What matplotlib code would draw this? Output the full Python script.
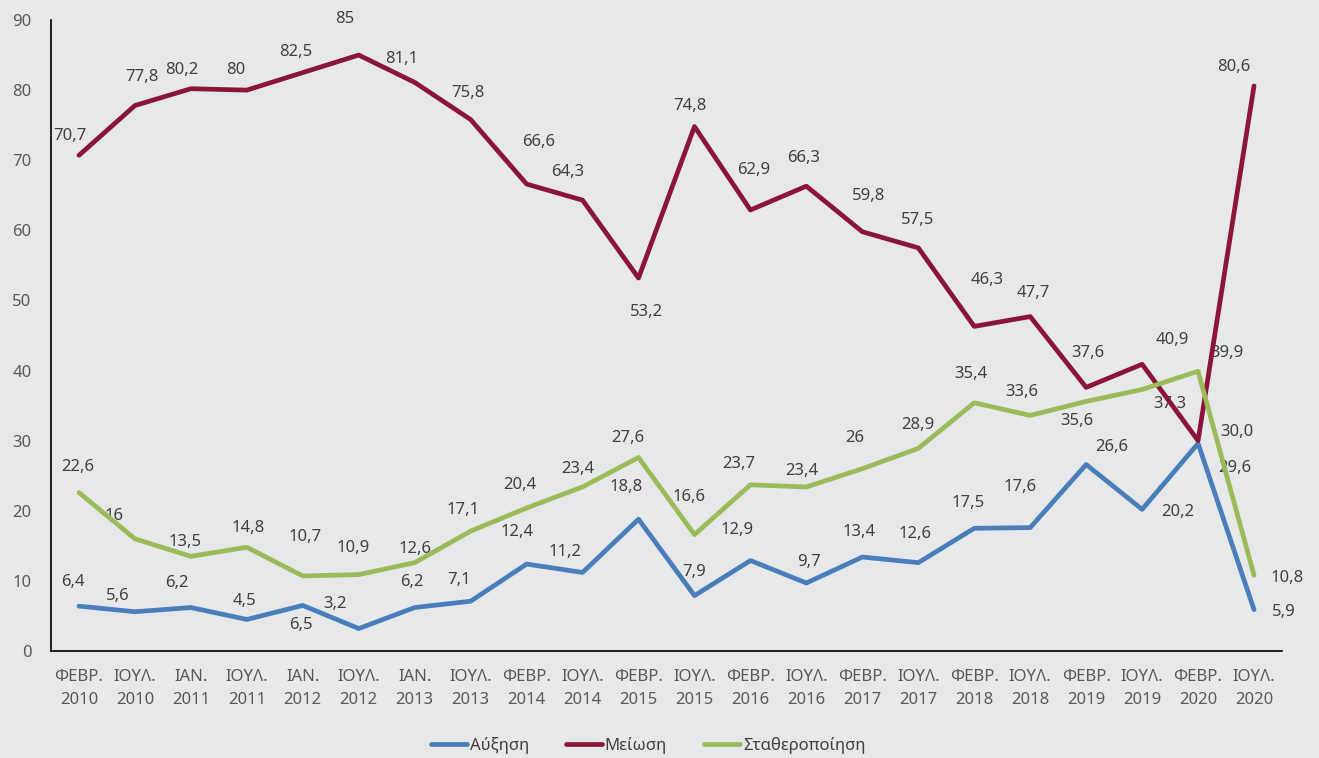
import numpy as np
import matplotlib
matplotlib.use("Agg")
import matplotlib.pyplot as plt

plt.rcParams['font.family'] = ['Noto Sans', 'DejaVu Sans']

# data
periods = ['ΦΕΒΡ.\n2010', 'ΙΟΥΛ.\n2010', 'ΙΑΝ.\n2011', 'ΙΟΥΛ.\n2011', 'ΙΑΝ.\n2012', 'ΙΟΥΛ.\n2012',
           'ΙΑΝ.\n2013', 'ΙΟΥΛ.\n2013', 'ΦΕΒΡ.\n2014', 'ΙΟΥΛ.\n2014', 'ΦΕΒΡ.\n2015', 'ΙΟΥΛ.\n2015',
           'ΦΕΒΡ.\n2016', 'ΙΟΥΛ.\n2016', 'ΦΕΒΡ.\n2017', 'ΙΟΥΛ.\n2017', 'ΦΕΒΡ.\n2018', 'ΙΟΥΛ.\n2018',
           'ΦΕΒΡ.\n2019', 'ΙΟΥΛ.\n2019', 'ΦΕΒΡ.\n2020', 'ΙΟΥΛ.\n2020']
increase = [6.4, 5.6, 6.2, 4.5, 6.5, 3.2, 6.2, 7.1, 12.4, 11.2, 18.8, 7.9, 12.9, 9.7, 13.4, 12.6,
            17.5, 17.6, 26.6, 20.2, 29.6, 5.9]
decrease = [70.7, 77.8, 80.2, 80, 82.5, 85, 81.1, 75.8, 66.6, 64.3, 53.2, 74.8, 62.9, 66.3, 59.8,
            57.5, 46.3, 47.7, 37.6, 40.9, 30.0, 80.6]
stable = [22.6, 16, 13.5, 14.8, 10.7, 10.9, 12.6, 17.1, 20.4, 23.4, 27.6, 16.6, 23.7, 23.4, 26,
          28.9, 35.4, 33.6, 35.6, 37.3, 39.9, 10.8]
label_increase = ['6,4', '5,6', '6,2', '4,5', '6,5', '3,2', '6,2', '7,1', '12,4', '11,2', '18,8', '7,9',
                  '12,9', '9,7', '13,4', '12,6', '17,5', '17,6', '26,6', '20,2', '29,6', '5,9']
label_decrease = ['70,7', '77,8', '80,2', '80', '82,5', '85', '81,1', '75,8', '66,6', '64,3', '53,2',
                  '74,8', '62,9', '66,3', '59,8', '57,5', '46,3', '47,7', '37,6', '40,9', '30,0', '80,6']
label_stable = ['22,6', '16', '13,5', '14,8', '10,7', '10,9', '12,6', '17,1', '20,4', '23,4', '27,6',
                '16,6', '23,7', '23,4', '26', '28,9', '35,4', '33,6', '35,6', '37,3', '39,9', '10,8']

# label offsets in pixels (dx, dy down)
off_increase = [(-6, -24), (-17, -16), (-14, -25), (-2, -18), (-2, 20), (-24, -25), (-3, -26), (-12, -21),
                (-10, -32), (-18, -20), (-12, -32), (0, -24), (-13, -31), (3, -21), (-3, -25), (-3, -29),
                (-6, -25), (-10, -41), (26, -18), (36, 3), (37, 25), (30, 2)]
off_decrease = [(-9, -19), (7, -29), (-9, -19), (-11, -20), (-7, -21), (-14, -36), (-13, -23), (-3, -27),
                (12, -42), (-15, -28), (8, 34), (-5, -21), (3, -40), (-3, -28), (6, -36), (-1, -28),
                (13, -46), (3, -24), (2, -34), (30, -24), (39, -9), (-20, -19)]
off_stable = [(-1, -26), (-21, -23), (-6, -14), (1, -19), (2, -39), (-6, -27), (0, -14), (-8, -21),
              (-7, -23), (-5, -18), (-11, -19), (-5, -38), (-12, -21), (-5, -16), (-8, -31), (0, -23),
              (-3, -29), (-8, -23), (-9, 20), (28, 15), (29, -18), (33, 3)]

bg = '#E7E8EA'
txt = '#404040'

fig = plt.figure(figsize=(13.19, 7.58), dpi=100, facecolor=bg)
ax = fig.add_axes([51 / 1319, 107 / 758, (1282 - 51) / 1319, (651 - 20) / 758])
ax.set_facecolor(bg)

x = np.arange(len(periods))
series = [
    (increase, label_increase, off_increase, '#4A7EBB', 'Αύξηση'),
    (decrease, label_decrease, off_decrease, '#8B1538', 'Μείωση'),
    (stable, label_stable, off_stable, '#9BBB59', 'Σταθεροποίηση'),
]
for vals, labs, offs, col, name in series:
    ax.plot(x, vals, color=col, lw=3.4, label=name, zorder=3, solid_capstyle='round')
    for xi, v, s, (dx, dy) in zip(x, vals, labs, offs):
        ax.annotate(s, (xi, v), xytext=(dx, -dy), textcoords='offset pixels',
                    ha='center', va='center', fontsize=12, color=txt, zorder=1)

ax.set_xlim(-0.5, len(periods) - 0.5)
ax.set_ylim(0, 90)
ax.set_yticks(range(0, 91, 10))
ax.set_xticks(x)
ax.set_xticklabels(periods, linespacing=1.6)
ax.tick_params(axis='y', length=0, pad=14, labelsize=12, labelcolor='#595959')
ax.tick_params(axis='x', length=0, pad=13, labelsize=12, labelcolor='#595959')
for sp in ['top', 'right']:
    ax.spines[sp].set_visible(False)
ax.spines['left'].set_color('black')
ax.spines['bottom'].set_color('black')
ax.spines['left'].set_linewidth(1.2)
ax.spines['bottom'].set_linewidth(1.2)

fig.legend(loc='center', bbox_to_anchor=(648 / 1319, 13 / 758), ncol=3, frameon=False,
           fontsize=12, labelcolor=txt, handlelength=2.2, handletextpad=0.15, columnspacing=2.2)

fig.savefig('out.png', dpi=100, facecolor=bg)
